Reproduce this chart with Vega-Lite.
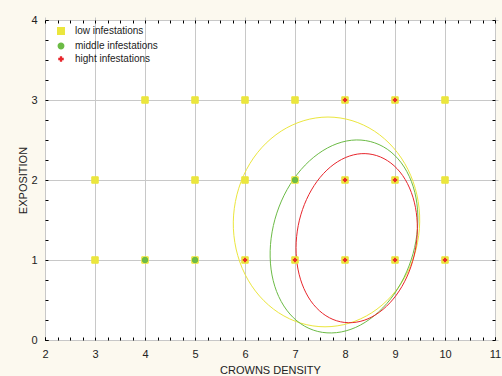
{
  "$schema": "https://vega.github.io/schema/vega-lite/v6.json",
  "width": 450,
  "height": 320,
  "autosize": {"type": "none"},
  "padding": {"left": 45, "top": 20, "right": 7, "bottom": 36},
  "background": "#fcf9ef",
  "config": {
    "view": {"fill": "white", "stroke": "black", "strokeWidth": 1},
    "font": "Liberation Sans",
    "axis": {
      "domain": false,
      "tickColor": "black",
      "ticks": true,
      "tickSize": 3,
      "offset": -3,
      "labelPadding": 8,
      "gridColor": "#c8c8c8",
      "labelFont": "Liberation Sans",
      "labelFontSize": 11,
      "labelColor": "#222",
      "labelOverlap": false,
      "labelFlush": false,
      "labelBound": false,
      "titleFont": "Liberation Sans",
      "titleFontSize": 11,
      "titleFontWeight": "normal",
      "titleColor": "#222"
    },
    "legend": {
      "labelFont": "Liberation Sans",
      "labelFontSize": 10,
      "labelColor": "#222",
      "title": null,
      "orient": "none",
      "legendX": 11,
      "legendY": 6,
      "padding": 0,
      "labelOffset": 9,
      "rowPadding": 2
    }
  },
  "datasets": {
    "points": [
      {"s": "low infestations", "x": 3, "y": 1},
      {"s": "low infestations", "x": 4, "y": 1},
      {"s": "low infestations", "x": 5, "y": 1},
      {"s": "low infestations", "x": 6, "y": 1},
      {"s": "low infestations", "x": 7, "y": 1},
      {"s": "low infestations", "x": 8, "y": 1},
      {"s": "low infestations", "x": 9, "y": 1},
      {"s": "low infestations", "x": 10, "y": 1},
      {"s": "low infestations", "x": 3, "y": 2},
      {"s": "low infestations", "x": 5, "y": 2},
      {"s": "low infestations", "x": 6, "y": 2},
      {"s": "low infestations", "x": 7, "y": 2},
      {"s": "low infestations", "x": 8, "y": 2},
      {"s": "low infestations", "x": 9, "y": 2},
      {"s": "low infestations", "x": 10, "y": 2},
      {"s": "low infestations", "x": 4, "y": 3},
      {"s": "low infestations", "x": 5, "y": 3},
      {"s": "low infestations", "x": 6, "y": 3},
      {"s": "low infestations", "x": 7, "y": 3},
      {"s": "low infestations", "x": 8, "y": 3},
      {"s": "low infestations", "x": 9, "y": 3},
      {"s": "low infestations", "x": 10, "y": 3},
      {"s": "middle infestations", "x": 4, "y": 1},
      {"s": "middle infestations", "x": 5, "y": 1},
      {"s": "middle infestations", "x": 7, "y": 2},
      {"s": "hight infestations", "x": 6, "y": 1},
      {"s": "hight infestations", "x": 7, "y": 1},
      {"s": "hight infestations", "x": 8, "y": 1},
      {"s": "hight infestations", "x": 9, "y": 1},
      {"s": "hight infestations", "x": 10, "y": 1},
      {"s": "hight infestations", "x": 8, "y": 2},
      {"s": "hight infestations", "x": 9, "y": 2},
      {"s": "hight infestations", "x": 8, "y": 3},
      {"s": "hight infestations", "x": 9, "y": 3}
    ],
    "ellipses": [
      {"s": "low infestations", "k": 0, "x": 7.66, "y": 2.787},
      {"s": "low infestations", "k": 1, "x": 8.141, "y": 2.742},
      {"s": "low infestations", "k": 2, "x": 8.588, "y": 2.611},
      {"s": "low infestations", "k": 3, "x": 8.969, "y": 2.403},
      {"s": "low infestations", "k": 4, "x": 9.259, "y": 2.132},
      {"s": "low infestations", "k": 5, "x": 9.438, "y": 1.815},
      {"s": "low infestations", "k": 6, "x": 9.494, "y": 1.476},
      {"s": "low infestations", "k": 7, "x": 9.422, "y": 1.137},
      {"s": "low infestations", "k": 8, "x": 9.229, "y": 0.82},
      {"s": "low infestations", "k": 9, "x": 8.927, "y": 0.549},
      {"s": "low infestations", "k": 10, "x": 8.536, "y": 0.341},
      {"s": "low infestations", "k": 11, "x": 8.083, "y": 0.21},
      {"s": "low infestations", "k": 12, "x": 7.6, "y": 0.165},
      {"s": "low infestations", "k": 13, "x": 7.119, "y": 0.21},
      {"s": "low infestations", "k": 14, "x": 6.672, "y": 0.341},
      {"s": "low infestations", "k": 15, "x": 6.291, "y": 0.549},
      {"s": "low infestations", "k": 16, "x": 6.001, "y": 0.82},
      {"s": "low infestations", "k": 17, "x": 5.822, "y": 1.137},
      {"s": "low infestations", "k": 18, "x": 5.766, "y": 1.476},
      {"s": "low infestations", "k": 19, "x": 5.838, "y": 1.815},
      {"s": "low infestations", "k": 20, "x": 6.031, "y": 2.132},
      {"s": "low infestations", "k": 21, "x": 6.333, "y": 2.403},
      {"s": "low infestations", "k": 22, "x": 6.724, "y": 2.611},
      {"s": "low infestations", "k": 23, "x": 7.177, "y": 2.742},
      {"s": "middle infestations", "k": 0, "x": 8.13, "y": 2.497},
      {"s": "middle infestations", "k": 1, "x": 8.505, "y": 2.481},
      {"s": "middle infestations", "k": 2, "x": 8.845, "y": 2.385},
      {"s": "middle infestations", "k": 3, "x": 9.125, "y": 2.215},
      {"s": "middle infestations", "k": 4, "x": 9.328, "y": 1.982},
      {"s": "middle infestations", "k": 5, "x": 9.439, "y": 1.702},
      {"s": "middle infestations", "k": 6, "x": 9.45, "y": 1.394},
      {"s": "middle infestations", "k": 7, "x": 9.361, "y": 1.079},
      {"s": "middle infestations", "k": 8, "x": 9.178, "y": 0.779},
      {"s": "middle infestations", "k": 9, "x": 8.913, "y": 0.514},
      {"s": "middle infestations", "k": 10, "x": 8.585, "y": 0.303},
      {"s": "middle infestations", "k": 11, "x": 8.215, "y": 0.158},
      {"s": "middle infestations", "k": 12, "x": 7.83, "y": 0.092},
      {"s": "middle infestations", "k": 13, "x": 7.455, "y": 0.107},
      {"s": "middle infestations", "k": 14, "x": 7.115, "y": 0.203},
      {"s": "middle infestations", "k": 15, "x": 6.835, "y": 0.373},
      {"s": "middle infestations", "k": 16, "x": 6.632, "y": 0.606},
      {"s": "middle infestations", "k": 17, "x": 6.521, "y": 0.886},
      {"s": "middle infestations", "k": 18, "x": 6.51, "y": 1.194},
      {"s": "middle infestations", "k": 19, "x": 6.599, "y": 1.509},
      {"s": "middle infestations", "k": 20, "x": 6.782, "y": 1.809},
      {"s": "middle infestations", "k": 21, "x": 7.047, "y": 2.074},
      {"s": "middle infestations", "k": 22, "x": 7.375, "y": 2.285},
      {"s": "middle infestations", "k": 23, "x": 7.745, "y": 2.43},
      {"s": "hight infestations", "k": 0, "x": 8.324, "y": 2.329},
      {"s": "hight infestations", "k": 1, "x": 8.634, "y": 2.305},
      {"s": "hight infestations", "k": 2, "x": 8.917, "y": 2.212},
      {"s": "hight infestations", "k": 3, "x": 9.154, "y": 2.055},
      {"s": "hight infestations", "k": 4, "x": 9.327, "y": 1.844},
      {"s": "hight infestations", "k": 5, "x": 9.426, "y": 1.594},
      {"s": "hight infestations", "k": 6, "x": 9.444, "y": 1.323},
      {"s": "hight infestations", "k": 7, "x": 9.38, "y": 1.048},
      {"s": "hight infestations", "k": 8, "x": 9.237, "y": 0.788},
      {"s": "hight infestations", "k": 9, "x": 9.026, "y": 0.561},
      {"s": "hight infestations", "k": 10, "x": 8.761, "y": 0.383},
      {"s": "hight infestations", "k": 11, "x": 8.46, "y": 0.265},
      {"s": "hight infestations", "k": 12, "x": 8.144, "y": 0.217},
      {"s": "hight infestations", "k": 13, "x": 7.834, "y": 0.24},
      {"s": "hight infestations", "k": 14, "x": 7.551, "y": 0.333},
      {"s": "hight infestations", "k": 15, "x": 7.314, "y": 0.49},
      {"s": "hight infestations", "k": 16, "x": 7.141, "y": 0.701},
      {"s": "hight infestations", "k": 17, "x": 7.042, "y": 0.951},
      {"s": "hight infestations", "k": 18, "x": 7.024, "y": 1.223},
      {"s": "hight infestations", "k": 19, "x": 7.088, "y": 1.498},
      {"s": "hight infestations", "k": 20, "x": 7.231, "y": 1.757},
      {"s": "hight infestations", "k": 21, "x": 7.442, "y": 1.984},
      {"s": "hight infestations", "k": 22, "x": 7.707, "y": 2.162},
      {"s": "hight infestations", "k": 23, "x": 8.008, "y": 2.28}
    ]
  },
  "layer": [
    {
      "data": {"name": "ellipses"},
      "mark": {"type": "line", "interpolate": "cardinal-closed", "strokeWidth": 1, "clip": true},
      "encoding": {
        "x": {
          "field": "x", "type": "quantitative",
          "scale": {"domain": [2, 11], "nice": false, "zero": false},
          "axis": {
            "orient": "top", "labels": false, "title": null, "grid": false, "ticks": true,
            "values": [2,2.25,2.5,2.75,3,3.25,3.5,3.75,4,4.25,4.5,4.75,5,5.25,5.5,5.75,6,6.25,6.5,6.75,7,7.25,7.5,7.75,8,8.25,8.5,8.75,9,9.25,9.5,9.75,10,10.25,10.5,10.75,11]
          }
        },
        "y": {
          "field": "y", "type": "quantitative",
          "scale": {"domain": [0, 4], "nice": false, "zero": false},
          "axis": {
            "orient": "right", "labels": false, "title": null, "grid": false, "ticks": true,
            "values": [0,0.25,0.5,0.75,1,1.25,1.5,1.75,2,2.25,2.5,2.75,3,3.25,3.5,3.75,4]
          }
        },
        "color": {
          "field": "s", "type": "nominal",
          "scale": {"domain": ["low infestations", "middle infestations", "hight infestations"], "range": ["#ebe63e", "#6cbb46", "#e8262c"]},
          "legend": null
        },
        "order": {"field": "k", "type": "quantitative"}
      }
    },
    {
      "data": {"name": "points"},
      "mark": {"type": "point", "filled": true, "strokeWidth": 1, "opacity": 1},
      "encoding": {
        "x": {
          "field": "x", "type": "quantitative",
          "scale": {"domain": [2, 11], "nice": false, "zero": false},
          "axis": {
            "orient": "bottom", "title": "CROWNS DENSITY", "titlePadding": 5, "grid": true, "ticks": true,
            "values": [2,2.25,2.5,2.75,3,3.25,3.5,3.75,4,4.25,4.5,4.75,5,5.25,5.5,5.75,6,6.25,6.5,6.75,7,7.25,7.5,7.75,8,8.25,8.5,8.75,9,9.25,9.5,9.75,10,10.25,10.5,10.75,11],
            "labelExpr": "datum.value % 1 === 0 ? '' + datum.value : ''",
            "gridOpacity": {"condition": {"test": "datum.value % 1 === 0", "value": 1}, "value": 0}
          }
        },
        "y": {
          "field": "y", "type": "quantitative",
          "scale": {"domain": [0, 4], "nice": false, "zero": false},
          "axis": {
            "orient": "left", "title": "EXPOSITION", "titlePadding": 2, "grid": true, "ticks": true,
            "values": [0,0.25,0.5,0.75,1,1.25,1.5,1.75,2,2.25,2.5,2.75,3,3.25,3.5,3.75,4],
            "labelExpr": "datum.value % 1 === 0 ? '' + datum.value : ''",
            "gridOpacity": {"condition": {"test": "datum.value % 1 === 0", "value": 1}, "value": 0}
          }
        },
        "color": {
          "field": "s", "type": "nominal",
          "scale": {"domain": ["low infestations", "middle infestations", "hight infestations"], "range": ["#ebe63e", "#6cbb46", "#e8262c"]}
        },
        "stroke": {
          "field": "s", "type": "nominal",
          "scale": {"domain": ["low infestations", "middle infestations", "hight infestations"], "range": ["#ebe63e", "#6cbb46", "#e8262c"]}
        },
        "shape": {
          "field": "s", "type": "nominal",
          "scale": {"domain": ["low infestations", "middle infestations", "hight infestations"], "range": ["square", "circle", "M-1,-0.2H-0.2V-1H0.2V-0.2H1V0.2H0.2V1H-0.2V0.2H-1Z"]}
        },
        "size": {
          "field": "s", "type": "nominal",
          "scale": {"domain": ["low infestations", "middle infestations", "hight infestations"], "range": [42, 16, 36]}
        }
      }
    }
  ],
  "resolve": {"axis": {"x": "independent", "y": "independent"}, "legend": {"color": "independent", "stroke": "independent", "shape": "independent", "size": "independent"}}
}
